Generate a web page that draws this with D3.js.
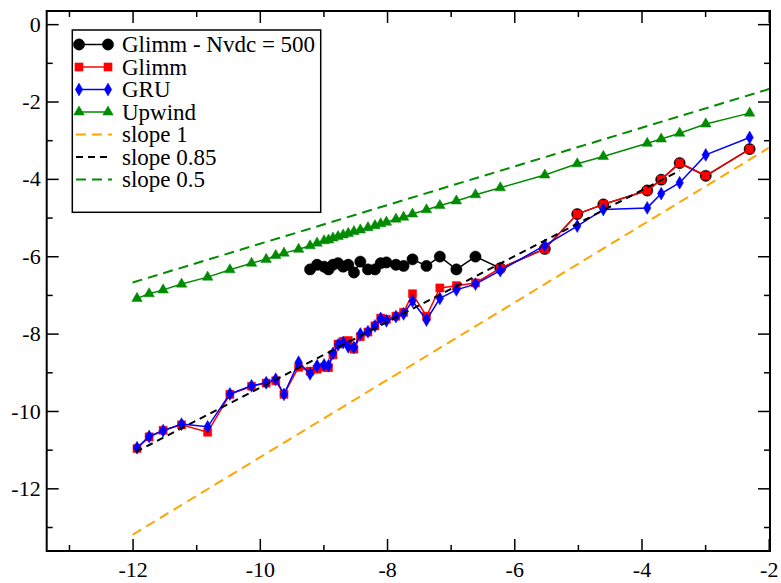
<!DOCTYPE html>
<html>
<head>
<meta charset="utf-8">
<script src="https://cdn.jsdelivr.net/npm/d3@7"></script>
<style>
  html, body { margin: 0; padding: 0; background: #fff; }
  svg { display: block; }
  svg text { font-family: "Liberation Serif", "Times New Roman", Times, serif !important; }
</style>
</head>
<body>
<svg id="chart" width="781" height="583"></svg>
<script>
// ---- data ----
const xGrid = [-11.93, -11.74, -11.52, -11.23, -10.82, -10.47, -10.13, -9.90, -9.75, -9.62,
  -9.39, -9.21, -9.10, -8.99, -8.92, -8.85, -8.77, -8.69, -8.61, -8.52,
  -8.42, -8.30, -8.19, -8.10, -8.01, -7.86, -7.74, -7.60, -7.38, -7.17,
  -6.91, -6.61, -6.22, -5.52, -5.01, -4.60, -3.91, -3.69, -3.40, -2.99, -2.30];

const glimmNvdc = [null, null, null, null, null, null, null, null, null, null,
  null, -6.34, -6.22, -6.27, -6.34, -6.22, -6.18, -6.27, -6.22, -6.42,
  -6.14, -6.34, -6.34, -6.18, -6.16, -6.22, -6.25, -6.08, -6.25, -6.01,
  -6.34, -6.01, -6.31, -5.81, -4.91, -4.66, -4.30, -4.02, -3.59, -3.92, -3.23];

const glimm = [-10.97, -10.67, -10.50, -10.36, -10.55, -9.57, -9.36, -9.28, -9.22, -9.57,
  -8.87, -8.97, -8.92, -8.87, -8.88, -8.55, -8.27, -8.20, -8.18, -8.40,
  -8.08, -7.96, -7.80, -7.60, -7.63, -7.55, -7.45, -6.97, -7.55, -6.82,
  -6.76, -6.69, -6.31, -5.81, -4.91, -4.66, -4.30, -4.02, -3.59, -3.92, -3.23];

const gru = [-10.95, -10.66, -10.51, -10.34, -10.41, -9.56, -9.35, -9.27, -9.18, -9.57,
  -8.74, -9.04, -8.83, -8.81, -8.83, -8.51, -8.29, -8.23, -8.34, -8.36,
  -8.01, -7.95, -7.80, -7.61, -7.67, -7.56, -7.49, -7.16, -7.65, -7.09,
  -6.87, -6.72, -6.37, -5.72, -5.22, -4.79, -4.75, -4.38, -4.10, -3.38, -2.93];

const upwind = [-7.09, -6.97, -6.87, -6.72, -6.54, -6.35, -6.18, -6.08, -5.98, -5.92,
  -5.82, -5.73, -5.66, -5.60, -5.58, -5.53, -5.49, -5.45, -5.41, -5.36,
  -5.32, -5.26, -5.21, -5.16, -5.12, -5.04, -4.99, -4.91, -4.80, -4.69,
  -4.57, -4.41, -4.23, -3.90, -3.61, -3.42, -3.08, -2.97, -2.82, -2.58, -2.30];

const slope1X = [-12, -2];      const slope1Y = [-13.2, -3.2];
const slope085X = [-11.95, -3.4]; const slope085Y = [-11.06, -3.79];
const slope05X = [-12, -1.98];   const slope05Y = [-6.68, -1.67];

const xMajorTicks = [-12, -10, -8, -6, -4, -2];
const xMinorTicks = [-13, -11, -9, -7, -5, -3];
const yMajorTicks = [0, -2, -4, -6, -8, -10, -12];
const yMinorTicks = [-1, -3, -5, -7, -9, -11, -13];

const legendLabels = ["Glimm - Nvdc = 500", "Glimm", "GRU", "Upwind", "slope 1", "slope 0.85", "slope 0.5"];

// ---- chart ----
const FONT = '"Liberation Serif", "Times New Roman", Times, serif';
const svg = d3.select("#chart");
const L = 46.7, R = 770, T = 11, B = 551;
const x = d3.scaleLinear().domain([-13.35, -1.98]).range([L, R]);
const y = d3.scaleLinear().domain([-13.62, 0.34]).range([B, T]);

svg.append("defs").append("clipPath").attr("id", "clip")
  .append("rect").attr("x", L).attr("y", T).attr("width", R - L).attr("height", B - T);

const plot = svg.append("g").attr("clip-path", "url(#clip)");

const COL = { black: "#000", red: "#ff0000", blue: "#0000ff", green: "#008b00", orange: "#ffa500" };

function pts(xs, ys) {
  return xs.map((v, i) => ({ x: v, y: ys[i] })).filter(d => d.y !== null && d.y !== undefined);
}
const line = d3.line().x(d => x(d.x)).y(d => y(d.y));

function drawSeries(data, color, marker, size) {
  plot.append("path").datum(data).attr("d", line)
    .attr("fill", "none").attr("stroke", color).attr("stroke-width", 1.5);
  const g = plot.append("g");
  g.selectAll("path").data(data).enter().append("path")
    .attr("d", d3.symbol().type(marker).size(size))
    .attr("transform", d => `translate(${x(d.x)},${y(d.y)})`)
    .attr("fill", color).attr("stroke", color).attr("stroke-width", 0.5);
}

function drawDashed(xs, ys, color, dash) {
  plot.append("path").datum(pts(xs, ys)).attr("d", line)
    .attr("fill", "none").attr("stroke", color).attr("stroke-width", 2)
    .attr("stroke-dasharray", dash);
}

drawSeries(pts(xGrid, glimmNvdc), COL.black, d3.symbolCircle, 100);
drawSeries(pts(xGrid, glimm), COL.red, d3.symbolSquare, 66);
drawSeries(pts(xGrid, gru), COL.blue, d3.symbolDiamond, 48);
drawSeries(pts(xGrid, upwind), COL.green, d3.symbolTriangle, 48);
drawDashed(slope1X, slope1Y, COL.orange, "10,6");
drawDashed(slope085X, slope085Y, COL.black, "7,5");
drawDashed(slope05X, slope05Y, COL.green, "10,6");

// ---- axes (ticks inward, mirrored) ----
function styleAxis(g) {
  g.attr("font-family", FONT).attr("font-size", 22);
  g.select(".domain").remove();
  g.selectAll(".tick line").attr("stroke", "#000").attr("stroke-width", 1.5);
  g.selectAll(".tick text").attr("font-size", 22).attr("fill", "#000")
    .attr("font-family", FONT);
}
const fmt = d => String(d);

svg.append("g").attr("transform", `translate(0,${B})`)
  .call(d3.axisBottom(x).tickValues(xMajorTicks).tickSize(-12).tickPadding(10).tickFormat(fmt))
  .call(styleAxis);
svg.append("g").attr("transform", `translate(0,${B})`)
  .call(d3.axisBottom(x).tickValues(xMinorTicks).tickSize(-6).tickFormat(""))
  .call(styleAxis);
svg.append("g").attr("transform", `translate(0,${T})`)
  .call(d3.axisTop(x).tickValues(xMajorTicks).tickSize(-12).tickFormat(""))
  .call(styleAxis);
svg.append("g").attr("transform", `translate(0,${T})`)
  .call(d3.axisTop(x).tickValues(xMinorTicks).tickSize(-6).tickFormat(""))
  .call(styleAxis);

svg.append("g").attr("transform", `translate(${L},0)`)
  .call(d3.axisLeft(y).tickValues(yMajorTicks).tickSize(-12).tickPadding(6).tickFormat(fmt))
  .call(styleAxis);
svg.append("g").attr("transform", `translate(${L},0)`)
  .call(d3.axisLeft(y).tickValues(yMinorTicks).tickSize(-6).tickFormat(""))
  .call(styleAxis);
svg.append("g").attr("transform", `translate(${R},0)`)
  .call(d3.axisRight(y).tickValues(yMajorTicks).tickSize(-12).tickFormat(""))
  .call(styleAxis);
svg.append("g").attr("transform", `translate(${R},0)`)
  .call(d3.axisRight(y).tickValues(yMinorTicks).tickSize(-6).tickFormat(""))
  .call(styleAxis);

svg.append("rect").attr("x", L).attr("y", T).attr("width", R - L).attr("height", B - T)
  .attr("fill", "none").attr("stroke", "#000").attr("stroke-width", 2);

// ---- legend ----
const lg = svg.append("g");
lg.append("rect").attr("x", 72.3).attr("y", 30).attr("width", 248.4).attr("height", 182.3)
  .attr("fill", "#fff").attr("stroke", "#000").attr("stroke-width", 1.5);

const legendStyles = [
  { color: COL.black, marker: d3.symbolCircle, size: 100 },
  { color: COL.red, marker: d3.symbolSquare, size: 66 },
  { color: COL.blue, marker: d3.symbolDiamond, size: 48 },
  { color: COL.green, marker: d3.symbolTriangle, size: 48 },
  { color: COL.orange, dash: "10,6" },
  { color: COL.black, dash: "7,5" },
  { color: COL.green, dash: "10,6" }
];
legendLabels.forEach((lab, i) => {
  const cy = 44.5 + i * 22.5;
  const st = legendStyles[i];
  if (st.dash) {
    lg.append("line").attr("x1", 76).attr("x2", 112).attr("y1", cy).attr("y2", cy)
      .attr("stroke", st.color).attr("stroke-width", 2).attr("stroke-dasharray", st.dash);
  } else {
    lg.append("line").attr("x1", 79).attr("x2", 108).attr("y1", cy).attr("y2", cy)
      .attr("stroke", st.color).attr("stroke-width", 1.5);
    [79, 108].forEach(px => {
      lg.append("path").attr("d", d3.symbol().type(st.marker).size(st.size))
        .attr("transform", `translate(${px},${cy})`)
        .attr("fill", st.color).attr("stroke", st.color).attr("stroke-width", 0.5);
    });
  }
  lg.append("text").attr("x", 122).attr("y", cy + 7.5).attr("font-size", 23)
    .attr("font-family", FONT).attr("fill", "#000").text(lab);
});
</script>
</body>
</html>
